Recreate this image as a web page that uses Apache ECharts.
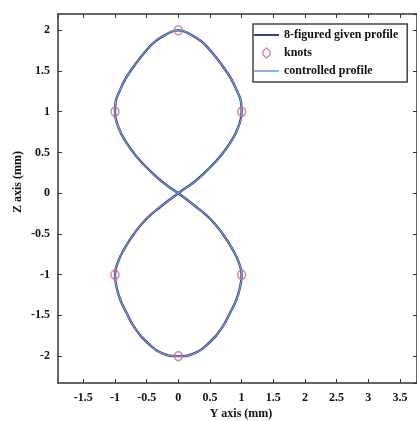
<!DOCTYPE html>
<html>
<head>
<meta charset="utf-8">
<script src="https://cdn.jsdelivr.net/npm/echarts@6/dist/echarts.min.js"></script>
<style>
  html, body { margin: 0; padding: 0; background: #fff; }
  #chart { width: 417px; height: 421px; }
</style>
</head>
<body>
<div id="chart"></div>
<script>
// 8-figured profile (Y, Z in mm), traced in drawing order:
// upper-left, upper-right, lower-left, lower-right
const profileY = [
  0, -0.27, -0.48, -0.67, -0.82, -0.94, -1.00, -0.99, -0.93, -0.83, -0.69, -0.53, -0.37, -0.21, 0,
  0.21, 0.37, 0.53, 0.69, 0.83, 0.93, 0.99, 1.00, 0.94, 0.82, 0.67, 0.48, 0.27, 0,
  -0.27, -0.51, -0.71, -0.85, -0.95, -1.00, -0.97, -0.91, -0.83, -0.69, -0.48, -0.27, 0,
  0.27, 0.48, 0.69, 0.83, 0.91, 0.97, 1.00, 0.95, 0.85, 0.71, 0.51, 0.27, 0
];
const profileZ = [
  0, 0.15, 0.30, 0.46, 0.62, 0.80, 1.00, 1.12, 1.25, 1.41, 1.57, 1.73, 1.86, 1.94, 2.00,
  1.94, 1.86, 1.73, 1.57, 1.41, 1.25, 1.12, 1.00, 0.80, 0.62, 0.46, 0.30, 0.15, 0,
  -0.16, -0.32, -0.51, -0.68, -0.84, -1.00, -1.17, -1.32, -1.45, -1.65, -1.84, -1.96, -2.00,
  -1.96, -1.84, -1.65, -1.45, -1.32, -1.17, -1.00, -0.84, -0.68, -0.51, -0.32, -0.16, 0
];
const knotY = [0, -1, 1, -1, 1, 0];
const knotZ = [2, 1, 1, -1, -1, -2];
const seriesNames = ["8-figured given profile", "knots", "controlled profile"];

const font = "'Liberation Serif', 'Times New Roman', serif";
const pairs = (xs, ys) => xs.map((x, i) => [x, ys[i]]);
const halfTick = (v) => Math.abs(v * 2 - Math.round(v * 2)) < 1e-6 ? String(v) : "";

const chart = echarts.init(document.getElementById("chart"), null, { renderer: "canvas" });

const frameLine = { show: true, onZero: false, lineStyle: { color: "#333", width: 1.5 } };
const tick = { show: true, inside: true, length: 4, lineStyle: { color: "#333", width: 1 } };
const knotColor = "#d46a7a";

chart.setOption({
  animation: false,
  backgroundColor: "#fff",
  textStyle: { fontFamily: font },
  grid: { left: 58, top: 14, right: 0, bottom: 38 },
  legend: {
    orient: "vertical",
    left: 253,
    top: 24,
    padding: [5, 9, 5, 0],
    itemWidth: 25,
    itemHeight: 10,
    itemGap: 6,
    borderColor: "#444",
    borderWidth: 1.5,
    backgroundColor: "#fff",
    textStyle: { fontFamily: font, fontWeight: "bold", fontSize: 12, color: "#111" },
    data: [
      { name: seriesNames[0], itemStyle: { opacity: 0 } },
      {
        name: seriesNames[1],
        icon: "path://M0,-5 L3.5,-2 L3.5,2 L0,5 L-3.5,2 L-3.5,-2 Z",
        itemStyle: { color: "rgba(255,255,255,0)", borderColor: knotColor, borderWidth: 1.5 }
      },
      { name: seriesNames[2], itemStyle: { opacity: 0 } }
    ]
  },
  xAxis: [{
    type: "value",
    min: -1.9,
    max: 3.77,
    splitNumber: 11,
    axisLine: frameLine,
    axisTick: tick,
    splitLine: { show: false },
    axisLabel: {
      formatter: halfTick, showMinLabel: false, showMaxLabel: false,
      margin: 9, fontFamily: font, fontWeight: "bold", fontSize: 12, color: "#111"
    }
  }, {
    type: "value",
    position: "top",
    min: -1.9,
    max: 3.77,
    splitNumber: 11,
    axisLine: frameLine,
    axisTick: tick,
    splitLine: { show: false },
    axisLabel: { show: false }
  }],
  yAxis: [{
    type: "value",
    min: -2.33,
    max: 2.2,
    splitNumber: 9,
    axisLine: frameLine,
    axisTick: tick,
    splitLine: { show: false },
    axisLabel: {
      formatter: halfTick, showMinLabel: false, showMaxLabel: false,
      margin: 8, fontFamily: font, fontWeight: "bold", fontSize: 12, color: "#111"
    }
  }, {
    type: "value",
    position: "right",
    min: -2.33,
    max: 2.2,
    splitNumber: 9,
    axisLine: frameLine,
    axisTick: tick,
    splitLine: { show: false },
    axisLabel: { show: false }
  }],
  graphic: [
    {
      type: "text", x: 241, y: 414,
      style: { text: "Y axis (mm)", font: "bold 12px " + font, fill: "#111", align: "center", verticalAlign: "middle" }
    },
    {
      type: "text", x: 18, y: 182, rotation: Math.PI / 2,
      style: { text: "Z axis (mm)", font: "bold 12px " + font, fill: "#111", align: "center", verticalAlign: "middle" }
    }
  ],
  series: [
    {
      name: seriesNames[0],
      type: "line",
      data: pairs(profileY, profileZ),
      smooth: 0.5,
      symbol: "none",
      lineStyle: { color: "#35418c", width: 2.4 },
      itemStyle: { color: "#35418c" },
      z: 2
    },
    {
      name: seriesNames[1],
      type: "scatter",
      data: pairs(knotY, knotZ),
      symbol: "circle",
      symbolSize: [8, 9],
      itemStyle: { color: "rgba(255,255,255,0)", borderColor: knotColor, borderWidth: 1.5 },
      z: 4
    },
    {
      name: seriesNames[2],
      type: "line",
      data: pairs(profileY, profileZ),
      smooth: 0.5,
      symbol: "none",
      lineStyle: { color: "#86b4e6", width: 1 },
      itemStyle: { color: "#86b4e6" },
      z: 3
    }
  ]
});
</script>
</body>
</html>
